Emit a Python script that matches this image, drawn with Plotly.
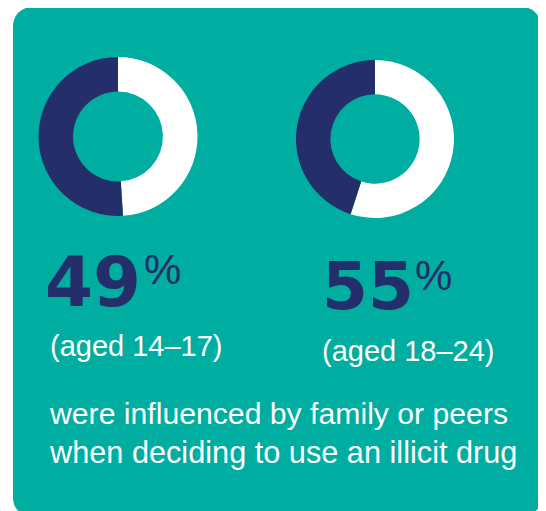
import plotly.graph_objects as go

# ---- data ----
age_groups = ["(aged 14–17)", "(aged 18–24)"]
influenced_pct = [49, 55]
not_influenced_pct = [51, 45]
pct_labels = ["49", "55"]
caption_lines = ["were influenced by family or peers",
                 "when deciding to use an illicit drug"]

TEAL = "#00ADA1"
NAVY = "#232E6A"
WHITE = "#FFFFFF"
W, H = 546, 511
OFF = 8  # page body margin in the browser
FW, FH = W - OFF, H - OFF


def px(x):
    return (x - OFF) / FW


def py(y):
    return 1 - (y - OFF) / FH


fig = go.Figure()

# donut geometry (pixel boxes in page coordinates)
donut_boxes = [(38.5, 57, 197.5, 216), (296, 60, 454, 218)]
for i, (x0, y0, x1, y1) in enumerate(donut_boxes):
    fig.add_trace(go.Pie(
        values=[influenced_pct[i], not_influenced_pct[i]],
        labels=["Influenced", "Not influenced"],
        marker=dict(colors=[WHITE, NAVY], line=dict(width=0)),
        hole=0.565,
        sort=False,
        direction="clockwise",
        rotation=0,
        textinfo="none",
        hoverinfo="none",
        showlegend=False,
        domain=dict(x=[px(x0), px(x1)], y=[py(y1), py(y0)]),
    ))

# rounded teal background
x0, x1, y0, y1, r = 13, 541, 7, 517, 19
k = 0.5523 * r
path = (
    f"M {px(x0 + r)},{py(y0)} L {px(x1 - r)},{py(y0)} "
    f"C {px(x1 - r + k)},{py(y0)} {px(x1)},{py(y0 + r - k)} {px(x1)},{py(y0 + r)} "
    f"L {px(x1)},{py(y1 - r)} "
    f"C {px(x1)},{py(y1 - r + k)} {px(x1 - r + k)},{py(y1)} {px(x1 - r)},{py(y1)} "
    f"L {px(x0 + r)},{py(y1)} "
    f"C {px(x0 + r - k)},{py(y1)} {px(x0)},{py(y1 - r + k)} {px(x0)},{py(y1 - r)} "
    f"L {px(x0)},{py(y0 + r)} "
    f"C {px(x0)},{py(y0 + r - k)} {px(x0 + r - k)},{py(y0)} {px(x0 + r)},{py(y0)} Z"
)
fig.add_shape(type="path", path=path, xref="paper", yref="paper",
              fillcolor=TEAL, line=dict(width=0), layer="below")

annotations = []
num_pos = [(44, 282), (321, 286)]
num_size = [69, 66]
pct_pos = [(142.5, 269), (413.5, 275)]
age_pos = [(49, 346), (321, 351)]
for i in range(2):
    annotations.append(dict(
        text=pct_labels[i], x=px(num_pos[i][0]), y=py(num_pos[i][1]),
        xref="paper", yref="paper", xanchor="left", yanchor="middle",
        showarrow=False, borderpad=0,
        font=dict(family="DejaVu Sans", size=num_size[i], color=NAVY,
                  weight="bold")))
    annotations.append(dict(
        text="%", x=px(pct_pos[i][0]), y=py(pct_pos[i][1]),
        xref="paper", yref="paper", xanchor="left", yanchor="middle",
        showarrow=False, borderpad=0,
        font=dict(family="Liberation Sans", size=42, color=NAVY)))
    annotations.append(dict(
        text=age_groups[i], x=px(age_pos[i][0]), y=py(age_pos[i][1]),
        xref="paper", yref="paper", xanchor="left", yanchor="middle",
        showarrow=False, borderpad=0,
        font=dict(family="Liberation Sans", size=29, color=WHITE)))

cap_y = [413, 452]
cap_size = [30.2, 30.7]
for j, line in enumerate(caption_lines):
    annotations.append(dict(
        text=line, x=px(48), y=py(cap_y[j]),
        xref="paper", yref="paper", xanchor="left", yanchor="middle",
        showarrow=False, borderpad=0,
        font=dict(family="Liberation Sans", size=cap_size[j], color=WHITE)))

fig.update_layout(
    width=FW, height=FH,
    margin=dict(l=0, r=0, t=0, b=0),
    paper_bgcolor=WHITE, plot_bgcolor=WHITE,
    showlegend=False,
    annotations=annotations,
)

fig.write_html("out.html", config={"displayModeBar": False})
